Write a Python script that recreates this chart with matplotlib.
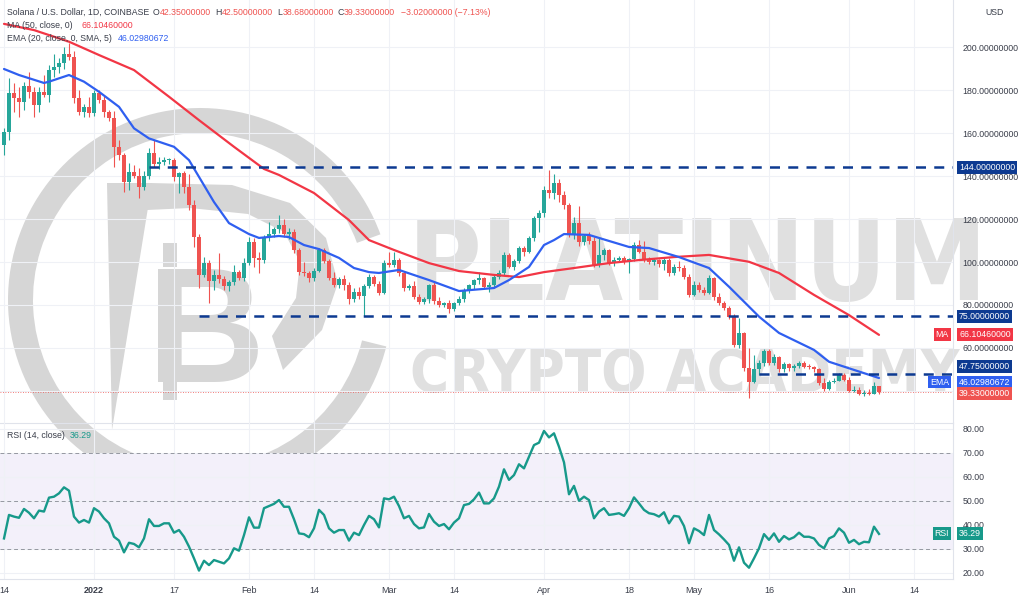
import numpy as np
import pandas as pd
import matplotlib
matplotlib.use("Agg")
import matplotlib.pyplot as plt
from matplotlib.patches import Wedge, Polygon, Rectangle
from matplotlib.ticker import FormatStrFormatter, FuncFormatter
from matplotlib import font_manager

plt.rcParams['font.family'] = ['Liberation Sans', 'DejaVu Sans']

# ---- data (SOL/USD daily, Coinbase) ----
dates = pd.date_range('2021-12-14', '2022-06-07', freq='D')
days = (dates - pd.Timestamp('2022-01-01')).days.values

opens = [154.4, 160.6, 178.5, 176.1, 174.6, 182.0, 178.9, 173.0, 178.9, 177.9, 189.3, 190.5, 192.4, 197.0, 195.2, 176.1, 169.9, 172.2,
         169.2, 178.8, 175.3, 169.9, 166.8, 153.6, 149.8, 137.3, 142.0, 140.0,
         135.0, 140.0, 150.8, 145.6, 146.5, 147.4, 147.6, 139.7, 141.3, 135.0,
         126.5, 111.8, 94.0, 99.4, 91.3, 94.0, 92.0, 88.8, 90.5, 95.5,
         92.5, 99.4, 109.4, 101.7, 101.0, 111.8, 113.0, 115.5, 117.2, 113.0,
         114.0, 105.6, 95.5, 95.0, 92.5, 96.0, 105.6, 100.6, 92.4, 89.3,
         92.0, 89.3, 82.7, 86.0, 84.0, 89.0, 93.2, 89.7, 85.6, 99.4,
         98.8, 101.0, 94.7, 87.8, 89.0, 83.9, 81.5, 82.6, 89.3, 81.8,
         79.8, 80.8, 78.0, 80.8, 82.6, 87.0, 89.3, 91.6, 92.5, 88.5,
         89.5, 93.2, 95.0, 103.3, 97.8, 100.3, 106.4, 104.8, 111.0, 120.3,
         122.6, 133.5, 132.0, 136.6, 131.2, 126.5, 112.6, 118.0, 109.4, 112.0,
         110.0, 98.6, 103.3, 105.6, 99.4, 101.0, 102.0, 100.0, 101.3, 107.9,
         104.8, 100.9, 100.0, 100.8, 99.0, 101.0, 94.7, 97.8, 97.0, 93.2,
         84.7, 89.3, 87.0, 85.4, 92.4, 83.9, 80.8, 78.5, 74.6, 61.4,
         66.8, 50.6, 44.3, 50.0, 52.8, 58.7, 53.0, 55.8, 50.0, 52.5,
         50.5, 51.5, 53.2, 51.3, 51.2, 50.3, 43.5, 41.0, 44.0, 44.8,
         47.4, 45.0, 40.0, 40.5, 38.5, 39.0, 38.6, 42.35]
highs = [162.2, 185.4, 183.1, 181.5, 183.9, 188.5, 181.5, 181.5, 187.0, 191.6, 197.0, 194.7, 200.1, 201.7, 198.0, 180.0, 173.5, 176.9,
         179.8, 179.8, 177.3, 170.5, 170.4, 156.7, 150.6, 145.9, 145.0, 143.6,
         142.3, 152.9, 156.7, 149.0, 149.0, 148.5, 148.5, 142.0, 142.5, 141.0,
         129.0, 113.0, 102.5, 101.0, 96.3, 104.0, 93.5, 91.5, 98.6, 96.5,
         101.7, 111.8, 111.0, 104.5, 112.6, 118.8, 116.5, 121.9, 120.0, 116.0,
         115.5, 106.5, 100.0, 96.0, 97.0, 106.4, 106.5, 101.5, 95.5, 93.0,
         94.0, 90.8, 88.0, 88.5, 90.0, 94.5, 94.0, 91.0, 101.0, 104.5,
         104.8, 102.0, 96.0, 90.0, 91.0, 85.0, 83.5, 90.0, 90.5, 83.5,
         81.5, 82.5, 81.5, 84.0, 88.0, 90.0, 92.0, 95.5, 93.0, 90.5,
         94.0, 96.5, 104.5, 104.0, 101.5, 107.5, 107.5, 112.0, 121.5, 124.0,
         135.5, 142.8, 141.0, 138.5, 133.0, 127.5, 121.0, 126.0, 113.0, 114.0,
         111.5, 111.0, 106.5, 106.0, 102.5, 103.0, 103.0, 101.8, 109.5, 110.2,
         110.0, 102.5, 102.0, 101.5, 102.5, 102.0, 99.0, 100.5, 98.5, 94.5,
         91.0, 90.5, 88.5, 94.0, 93.0, 85.5, 82.0, 79.5, 76.0, 73.8,
         67.5, 60.0, 56.7, 54.5, 59.5, 59.5, 57.0, 56.5, 53.5, 53.0,
         52.5, 54.0, 54.0, 52.5, 51.5, 50.8, 46.0, 45.0, 46.0, 48.5,
         48.5, 46.3, 42.5, 42.0, 40.5, 40.8, 44.2, 42.5]
lows = [149.8, 156.7, 169.9, 167.6, 170.7, 176.1, 167.6, 169.9, 176.9, 174.6, 186.2, 187.8, 190.0, 194.0, 174.0, 168.4, 167.6, 167.6,
        168.0, 174.0, 167.6, 165.8, 144.3, 147.4, 132.7, 133.5, 139.0, 129.6,
        133.5, 138.5, 144.3, 143.5, 145.0, 145.5, 137.6, 132.3, 132.0, 124.0,
        107.1, 87.8, 93.2, 80.8, 87.0, 90.1, 87.0, 86.5, 89.5, 91.5,
        91.0, 98.5, 97.8, 94.7, 99.5, 110.0, 111.5, 113.5, 111.5, 110.8,
        104.0, 94.0, 93.5, 90.5, 91.0, 95.5, 99.5, 91.5, 88.5, 88.0,
        87.0, 80.5, 81.5, 83.0, 75.0, 88.0, 89.0, 84.8, 85.0, 97.5,
        97.5, 93.5, 86.5, 87.0, 83.0, 80.5, 80.5, 81.0, 80.5, 79.0,
        79.0, 76.5, 77.0, 80.0, 81.5, 85.5, 87.5, 90.0, 87.5, 86.0,
        88.0, 92.0, 94.0, 97.0, 96.5, 99.5, 103.0, 104.0, 110.0, 114.0,
        121.0, 130.0, 129.5, 128.0, 124.5, 111.5, 110.5, 107.5, 108.0, 108.5,
        97.5, 97.5, 101.0, 98.5, 98.0, 100.0, 99.0, 94.7, 100.5, 104.0,
        100.0, 99.0, 98.5, 97.5, 96.5, 93.5, 94.0, 96.0, 92.0, 83.5,
        84.0, 86.0, 84.5, 85.0, 82.5, 80.0, 77.5, 73.5, 60.5, 60.0,
        49.5, 36.6, 43.5, 47.5, 51.5, 52.0, 52.0, 49.0, 49.0, 49.5,
        49.5, 50.5, 50.5, 50.0, 49.0, 43.0, 40.0, 40.5, 43.5, 44.5,
        44.5, 39.5, 39.5, 38.0, 37.8, 38.0, 38.4, 38.68]
closes = [160.6, 178.5, 176.1, 174.6, 182.0, 178.9, 173.0, 178.9, 177.9, 189.3, 190.5, 192.4, 197.0, 195.2, 176.1, 169.9, 172.2, 169.2,
          178.8, 175.3, 169.9, 166.8, 153.6, 149.8, 137.3, 142.0, 140.0, 135.0,
          140.0, 150.8, 145.6, 146.5, 147.4, 147.6, 139.7, 141.3, 135.0, 126.5,
          111.8, 94.0, 99.4, 91.3, 94.0, 92.0, 88.8, 90.5, 95.5, 92.5,
          99.4, 109.4, 101.7, 101.0, 111.8, 113.0, 115.5, 117.2, 113.0, 114.0,
          105.6, 95.5, 95.0, 92.5, 96.0, 105.6, 100.6, 92.4, 89.3, 92.0,
          89.3, 82.7, 86.0, 84.0, 89.0, 93.2, 89.7, 85.6, 99.4, 98.8,
          101.0, 94.7, 87.8, 89.0, 83.9, 81.5, 82.6, 89.3, 81.8, 79.8,
          80.8, 78.0, 80.8, 82.6, 87.0, 89.3, 91.6, 92.5, 88.5, 89.5,
          93.2, 95.0, 103.3, 97.8, 100.3, 106.4, 104.8, 111.0, 120.3, 122.6,
          133.5, 132.0, 136.6, 131.2, 126.5, 112.6, 118.0, 109.4, 112.0, 110.0,
          98.6, 103.3, 105.6, 99.4, 101.0, 102.0, 100.0, 101.3, 107.9, 104.8,
          100.9, 100.0, 100.8, 99.0, 101.0, 94.7, 97.8, 97.0, 93.2, 84.7,
          89.3, 87.0, 85.4, 92.4, 83.9, 80.8, 78.5, 74.6, 61.4, 66.8,
          50.6, 44.3, 50.0, 52.8, 58.7, 53.0, 55.8, 50.0, 52.5, 50.5,
          51.5, 53.2, 51.3, 51.2, 50.3, 43.5, 41.0, 44.0, 44.8, 47.4,
          45.0, 40.0, 40.5, 38.5, 39.0, 38.6, 42.35, 39.33]

rsi = [34.4, 44.2, 43.5, 43.0, 46.7, 45.1, 42.8, 46.0, 45.6, 51.4, 51.8, 53.2, 55.7, 54.3, 43.5, 41.0, 42.1, 41.0,
       47.0, 45.6, 42.8, 40.7, 35.1, 33.5, 28.6, 32.6, 32.1, 30.7,
       34.4, 42.4, 39.6, 39.6, 40.7, 40.7, 36.8, 37.9, 35.1, 31.0,
       26.1, 21.0, 25.1, 23.3, 25.4, 24.7, 24.0, 26.1, 30.3, 29.3,
       35.8, 43.2, 38.9, 38.9, 47.0, 47.9, 48.8, 50.4, 47.6, 47.6,
       42.4, 36.5, 36.2, 34.9, 38.6, 46.3, 44.2, 38.6, 36.8, 37.9,
       37.9, 33.5, 36.8, 35.8, 40.0, 43.8, 42.4, 39.0, 51.1, 50.7,
       51.8, 47.9, 42.8, 43.8, 40.4, 38.6, 39.0, 44.6, 41.4, 39.6,
       40.4, 38.2, 41.0, 42.8, 48.3, 48.8, 50.7, 53.5, 49.0, 49.0,
       51.1, 56.0, 63.2, 58.8, 60.8, 65.3, 63.6, 68.5, 73.3, 74.3,
       79.2, 76.5, 78.2, 72.6, 66.1, 52.8, 56.3, 50.1, 51.8, 50.4,
       42.8, 45.6, 47.0, 44.2, 44.5, 44.9, 43.8, 47.0, 51.5, 49.0,
       46.3, 44.9, 44.5, 43.5, 45.3, 40.7, 43.8, 43.5, 39.6, 32.4,
       38.6, 37.5, 35.8, 44.2, 37.9, 36.1, 34.0, 31.7, 25.1, 30.7,
       24.3, 22.2, 26.1, 30.3, 36.2, 33.8, 36.5, 33.0, 35.4, 34.0,
       34.9, 36.8, 35.1, 35.1, 34.4, 31.7, 30.3, 34.4, 35.4, 38.6,
       36.8, 32.6, 33.8, 32.0, 33.0, 32.8, 39.3, 36.29]

# MA(50) and EMA(20) (day offset from 2022-01-01, value)
ma_days = [-18, -12, -5, 1, 8, 15, 21, 28, 34, 37, 44, 51, 55, 60, 67, 73, 80, 85, 90, 96,
           103, 109, 116, 123, 131, 137, 144, 151, 157]
ma_vals = [210.8, 207.9, 202.5, 196.3, 189.3, 176.9, 166.0, 153.6, 143.3, 140.5, 132.1, 119.5, 110.2,
           105.6, 99.5, 95.8, 94.0, 93.0, 95.3, 97.2, 99.5, 100.9, 102.3, 103.3, 100.1, 94.9, 84.7, 75.3, 66.1046]
ema_days = [-18, -15, -10, -9, -5, -2, 1, 5, 8, 11, 16, 19, 24, 27, 31, 33, 37, 39, 42, 45, 49, 52,
            55, 57, 61, 67, 73, 80, 83, 87, 90, 92, 94, 99, 107, 111, 117, 123, 127, 133, 137, 144,
            147, 152, 157]
ema_vals = [189.8, 187.0, 183.3, 183.9, 187.0, 183.9, 179.2, 172.2, 162.2, 157.5, 153.6, 147.4, 127.9,
            118.1, 113.0, 111.2, 112.1, 111.6, 107.9, 106.0, 101.9, 97.2, 95.3, 94.9, 96.3, 91.6, 86.5,
            87.9, 91.6, 97.7, 107.9, 110.2, 113.0, 112.6, 107.0, 106.5, 102.3, 97.2, 88.5, 74.6, 67.0,
            59.1, 53.6, 49.8, 46.0298]

levels = [144.0, 75.0, 47.75]
level_start = [11, 21, 133]
last_price = 39.33

tick_days = [-18, 0, 16, 31, 44, 59, 72, 90, 107, 120, 135, 151, 164]
tick_labels = ['14', '2022', '17', 'Feb', '14', 'Mar', '14', 'Apr', '18', 'May', '16', 'Jun', '14']

# ---- colours ----
GREEN = '#26a69a'
RED = '#ef5350'
MA_RED = '#f23645'
EMA_BLUE = '#2f5ff0'
NAVY = '#0d3a91'
RSI_COL = '#17998a'
TXT = '#3a3e4a'
GRID = '#eff1f6'
WM = '#e0e0e0'
LOGO = '#d6d6d6'

W, H = 1024, 602
fig = plt.figure(figsize=(W / 100, H / 100), dpi=100)
fig.patch.set_facecolor('white')


def fx(px):
    return px / W


def fy(py):
    return 1 - py / H


# watermark layer (pixel coordinates, y downwards)
wm = fig.add_axes([0, 0, 1, 1], zorder=-1)
wm.set_xlim(0, W)
wm.set_ylim(H, 0)
wm.axis('off')
wm.add_patch(Wedge((200, 300), 192, 14, 340, width=25, facecolor=LOGO, edgecolor='none'))
# big stylised "P" behind the coin sign
wm.add_patch(Polygon([(107, 183), (152, 183), (112, 430)], closed=True, facecolor=LOGO, edgecolor='none'))
wm.add_patch(Polygon([(150, 183), (232, 185), (290, 203), (326, 238), (338, 283), (322, 330), (283, 370),
                      (272, 336), (296, 298), (300, 262), (284, 232), (248, 214), (190, 208), (147, 210)],
                     closed=True, facecolor=LOGO, edgecolor='none'))
wm.add_patch(Rectangle((163, 243), 14, 24, facecolor=LOGO, edgecolor='none'))
wm.add_patch(Rectangle((163, 376), 14, 24, facecolor=LOGO, edgecolor='none'))

names = {f.name for f in font_manager.fontManager.ttflist}
if 'Liberation Sans Narrow' in names:
    wm_font = dict(family=['Liberation Sans Narrow', 'DejaVu Sans'])
else:
    wm_font = dict(family=['DejaVu Sans'], stretch='condensed')

wm.text(147, 382, 'B', fontsize=118, fontweight='bold', color=LOGO, ha='left', va='baseline',
        family=['Liberation Sans', 'DejaVu Sans'])
t1 = wm.text(408, 300, 'PLATINUM', fontsize=100, fontweight='bold', color=WM, ha='left', va='baseline', **wm_font)
t2 = wm.text(410, 392, 'CRYPTO ACADEMY', fontsize=60, fontweight='bold', color=WM, ha='left', va='baseline', **wm_font)
renderer = fig.canvas.get_renderer()
for t, target in [(t1, 580), (t2, 550)]:
    bb = t.get_window_extent(renderer=renderer)
    t.set_fontsize(t.get_fontsize() * target / bb.width)

# main panels
ax = fig.add_axes([0, fy(423), fx(953), fy(0) - fy(423)])
ax_rsi = fig.add_axes([0, fy(579), fx(953), fy(423) - fy(579)], sharex=ax)
for a in (ax, ax_rsi):
    a.set_facecolor('none')
    a.spines['top'].set_visible(False)
    a.spines['left'].set_visible(False)
    a.spines['right'].set_color('#e0e3eb')
    a.spines['bottom'].set_color('#e0e3eb')
    a.yaxis.tick_right()
    a.set_axisbelow(True)
    a.grid(True, color=GRID, linewidth=0.8)
    a.tick_params(length=0, labelsize=6.3, labelcolor=TXT)

ax.set_xlim(-18.8, 171.8)
ax.set_ylim(25.1, 221.9)
ax_rsi.set_ylim(17.5, 82.5)

# candles
o = np.array(opens)
c = np.array(closes)
h = np.array(highs)
l = np.array(lows)
cols = np.where(c >= o, GREEN, RED)
ax.vlines(days, l, h, colors=cols, linewidth=0.8, zorder=3)
ax.bar(days, np.maximum(np.abs(c - o), 0.35), bottom=np.minimum(o, c), width=0.7,
       color=cols, linewidth=0, zorder=4)

ax.plot(ma_days, ma_vals, color=MA_RED, linewidth=1.6, zorder=5, solid_capstyle='round')
ax.plot(ema_days, ema_vals, color=EMA_BLUE, linewidth=1.6, zorder=5, solid_capstyle='round')

for lv, st in zip(levels, level_start):
    ax.hlines(lv, st, 171.8, colors=NAVY, linewidth=1.8, linestyles=(0, (4, 3.3)), zorder=6)
ax.axhline(last_price, color=RED, linewidth=0.6, linestyle=(0, (1, 2)), zorder=2)

ax.set_yticks(np.arange(40, 201, 20))
# the 40 label sits under the last-price tag, as in TradingView
ax.yaxis.set_major_formatter(FuncFormatter(lambda v, p: '' if v < 50 else '%.8f' % v))
ax.tick_params(axis='y', pad=7)
ax.set_xticks(tick_days)
ax.tick_params(axis='x', labelbottom=False)

# RSI panel
ax_rsi.axhspan(30, 70, color='#f3f0fa', zorder=0, linewidth=0)
for lv in (70, 50, 30):
    ax_rsi.axhline(lv, color='#9598a1', linewidth=0.7, linestyle=(0, (4, 3)), zorder=1)
ax_rsi.plot(days, rsi, color=RSI_COL, linewidth=1.7, zorder=4)
ax_rsi.set_yticks(np.arange(20, 81, 10))
ax_rsi.yaxis.set_major_formatter(FormatStrFormatter('%.2f'))
ax_rsi.tick_params(axis='y', pad=7)
ax_rsi.set_xticks(tick_days)
ax_rsi.set_xticklabels(tick_labels)
ax_rsi.tick_params(axis='x', pad=5, labelsize=6.5)
for lab in ax_rsi.get_xticklabels():
    if lab.get_text() == '2022':
        lab.set_fontweight('bold')


def tag(axis, value, text, color, dy=0):
    axis.annotate(text, xy=(1, value), xycoords=('axes fraction', 'data'),
                  xytext=(6, dy), textcoords='offset pixels', ha='left', va='center',
                  fontsize=6.3, color='white', zorder=20, annotation_clip=False,
                  bbox=dict(boxstyle='square,pad=0.22', fc=color, ec='none'))


def side_tag(axis, value, text, color, dy=0):
    axis.annotate(text, xy=(1, value), xycoords=('axes fraction', 'data'),
                  xytext=(-4, dy), textcoords='offset pixels', ha='right', va='center',
                  fontsize=6.3, color='white', zorder=20, annotation_clip=False,
                  bbox=dict(boxstyle='square,pad=0.22', fc=color, ec='none'))


tag(ax, 144.0, '144.00000000', NAVY)
tag(ax, 75.0, '75.00000000', NAVY, dy=-1)
tag(ax, ma_vals[-1], '66.10460000', MA_RED)
side_tag(ax, ma_vals[-1], 'MA', MA_RED)
tag(ax, 47.75, '47.75000000', NAVY, dy=8)
tag(ax, ema_vals[-1], '46.02980672', EMA_BLUE, dy=-4)
side_tag(ax, ema_vals[-1], 'EMA', EMA_BLUE, dy=-4)
tag(ax, last_price, '39.33000000', RED, dy=-1)
tag(ax_rsi, rsi[-1], '36.29', RSI_COL)
side_tag(ax_rsi, rsi[-1], 'RSI', RSI_COL)

# header legends
fs = 6.3


def put(px, py, s, color=TXT, **kw):
    fig.text(fx(px), fy(py), s, color=color, fontsize=fs, ha='left', va='center', **kw)


put(7, 12.5, 'Solana / U.S. Dollar, 1D, COINBASE')
put(153, 12.5, 'O')
put(160, 12.5, '42.35000000', RED)
put(215, 12.5, 'H')
put(222, 12.5, '42.50000000', RED)
put(277, 12.5, 'L')
put(283, 12.5, '38.68000000', RED)
put(337, 12.5, 'C')
put(344, 12.5, '39.33000000', RED)
put(401, 12.5, '\u22123.02000000 (\u22127.13%)', RED)
put(7, 25.5, 'MA (50, close, 0)')
put(81, 25.5, '66.10460000', MA_RED)
put(7, 38.5, 'EMA (20, close, 0, SMA, 5)')
put(118, 38.5, '46.02980672', EMA_BLUE)
put(7, 435, 'RSI (14, close)')
put(70, 435, '36.29', RSI_COL)
put(985, 12.5, 'USD')

fig.savefig('out.png', dpi=100, facecolor='white')
